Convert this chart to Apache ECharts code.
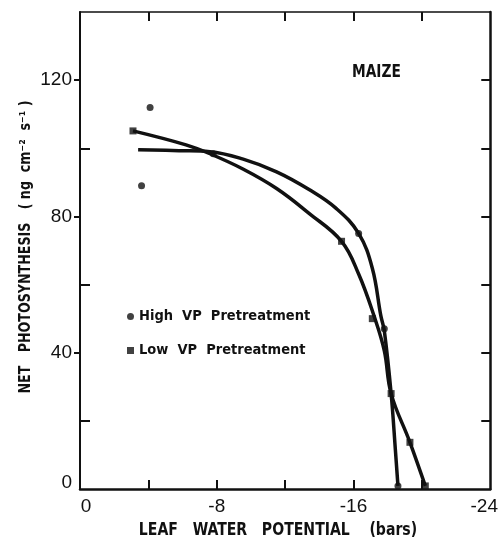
<!DOCTYPE html>
<html>
<head>
<meta charset="utf-8">
<script src="https://cdn.jsdelivr.net/npm/echarts@6/dist/echarts.min.js"></script>
<style>
html,body{margin:0;padding:0;background:#fff;}
#c{width:501px;height:546px;}
</style>
</head>
<body>
<div id="c"></div>
<script>
// ---- data ----
var xTickLabels = [0, -8, -16, -24];
var yTickLabels = [0, 40, 80, 120];
var seriesNames = ['High  VP  Pretreatment', 'Low  VP  Pretreatment'];
// fitted curve traced through the low-VP points (ends at -20.2 bars)
var curveA = [[-3.1,105.1],[-6.2,101.0],[-7.6,98.4],[-9.5,94.0],[-11.5,88.2],[-13.4,80.9],[-15.3,72.7],[-16.3,63.1],[-17.2,50.8],[-17.8,40.6],[-18.2,28.0],[-19.3,13.7],[-20.2,0.9]];
// fitted curve traced through the high-VP points (ends at -18.6 bars)
var curveB = [[-3.4,99.6],[-5.8,99.3],[-7.6,99.0],[-9.5,96.9],[-11.5,93.1],[-13.4,87.9],[-15.0,82.3],[-16.3,75.0],[-17.1,64.8],[-17.6,50.8],[-17.8,46.5],[-18.2,28.0],[-18.45,11.4],[-18.6,0.9]];
var highVP = [[-4.1,112],[-3.6,89],[-7.8,98.4],[-16.3,75],[-17.8,47],[-18.6,0.9]];
var lowVP = [[-3.1,105.1],[-15.3,72.7],[-17.1,50],[-18.2,28],[-19.3,13.7],[-20.2,0.9]];

var tickFont = "'Liberation Sans', Arial, sans-serif";
var boldFont = "'Liberation Sans Narrow', 'DejaVu Sans Condensed', sans-serif";
var ink = '#111';

var chart = echarts.init(document.getElementById('c'), null, {renderer: 'canvas'});
var lineStyle = {color: ink, width: 2};
var xInnerTicks = [-4, -8, -12, -16, -20];
chart.setOption({
  animation: false,
  backgroundColor: '#fff',
  grid: {left: 80, top: 12, right: 9, bottom: 57},
  legend: {
    data: [{name: seriesNames[0], icon: 'circle'}, {name: seriesNames[1], icon: 'rect'}],
    orient: 'vertical', left: 122, top: 304, itemGap: 19,
    itemWidth: 7, itemHeight: 7,
    textStyle: {color: ink, fontSize: 14.5, fontWeight: 'bold', fontFamily: boldFont},
    selectedMode: false
  },
  xAxis: [{
    type: 'value', position: 'bottom', min: -24, max: 0, interval: 4, inverse: true,
    axisLine: {onZero: false, lineStyle: {color: ink, width: 2.5}},
    axisTick: {inside: true, length: 9, customValues: xInnerTicks, lineStyle: lineStyle},
    splitLine: {show: false},
    axisLabel: {
      customValues: xTickLabels, color: ink, fontSize: 19, fontFamily: tickFont, margin: 8,
      formatter: function (v) {
        if (v === 0) return '{l|0}';
        if (v === -24) return '{r|-24}';
        return String(v);
      },
      rich: {
        l: {fontSize: 19, fontFamily: tickFont, color: ink, padding: [0, 0, 0, 12]},
        r: {fontSize: 19, fontFamily: tickFont, color: ink, padding: [0, 12, 0, 0]}
      }
    }
  }, {
    type: 'value', position: 'top', min: -24, max: 0, interval: 4, inverse: true,
    axisLine: {onZero: false, lineStyle: {color: ink, width: 1.5}},
    axisTick: {inside: true, length: 9, customValues: xInnerTicks, lineStyle: lineStyle},
    splitLine: {show: false}, axisLabel: {show: false}
  }],
  yAxis: [{
    type: 'value', position: 'left', min: 0, max: 140, interval: 20,
    axisLine: {onZero: false, lineStyle: lineStyle},
    axisTick: {inside: true, length: 10, customValues: [20, 60, 100], lineStyle: lineStyle},
    splitLine: {show: false},
    axisLabel: {
      customValues: yTickLabels, color: ink, fontSize: 19, fontFamily: tickFont, margin: 8,
      formatter: function (v) { return v === 0 ? '{b|0}' : String(v); },
      rich: {b: {fontSize: 19, fontFamily: tickFont, color: ink, padding: [0, 0, 12, 0]}}
    }
  }, {
    type: 'value', position: 'left', min: 0, max: 140, interval: 20,
    axisLine: {show: false, onZero: false},
    axisTick: {inside: false, length: 6, customValues: [40, 80, 120], lineStyle: lineStyle},
    splitLine: {show: false}, axisLabel: {show: false}
  }, {
    type: 'value', position: 'right', min: 0, max: 140, interval: 20,
    axisLine: {onZero: false, lineStyle: {color: ink, width: 2.5}},
    axisTick: {inside: true, length: 9, customValues: [20, 40, 60, 80, 100, 120], lineStyle: lineStyle},
    splitLine: {show: false}, axisLabel: {show: false}
  }],
  graphic: [{
    type: 'text', x: 352, y: 64, scaleX: 0.9,
    style: {text: 'MAIZE', fill: ink, font: 'bold 17px ' + boldFont}
  }, {
    type: 'text', x: 278, y: 531, scaleX: 0.92,
    style: {text: 'LEAF   WATER   POTENTIAL    (bars)', fill: ink, font: 'bold 17px ' + boldFont, align: 'center', verticalAlign: 'middle'}
  }, {
    type: 'text', x: 26, y: 247, rotation: Math.PI / 2, scaleX: 0.88,
    style: {text: 'NET   PHOTOSYNTHESIS   ( ng  cm\u207B\u00B2  s\u207B\u00B9 )', fill: ink, font: 'bold 16px ' + boldFont, align: 'center', verticalAlign: 'middle'}
  }],
  series: [{
    type: 'line', name: 'curveA', data: curveA, smooth: 0.4, showSymbol: false, silent: true,
    lineStyle: {color: ink, width: 3.5}, z: 3
  }, {
    type: 'line', name: 'curveB', data: curveB, smooth: 0.4, showSymbol: false, silent: true,
    lineStyle: {color: ink, width: 3.5}, z: 3
  }, {
    type: 'scatter', name: seriesNames[0], data: highVP, symbol: 'circle', symbolSize: 7,
    itemStyle: {color: ink}, z: 4
  }, {
    type: 'scatter', name: seriesNames[1], data: lowVP, symbol: 'rect', symbolSize: 7,
    itemStyle: {color: ink}, z: 4
  }]
});
</script>
</body>
</html>
